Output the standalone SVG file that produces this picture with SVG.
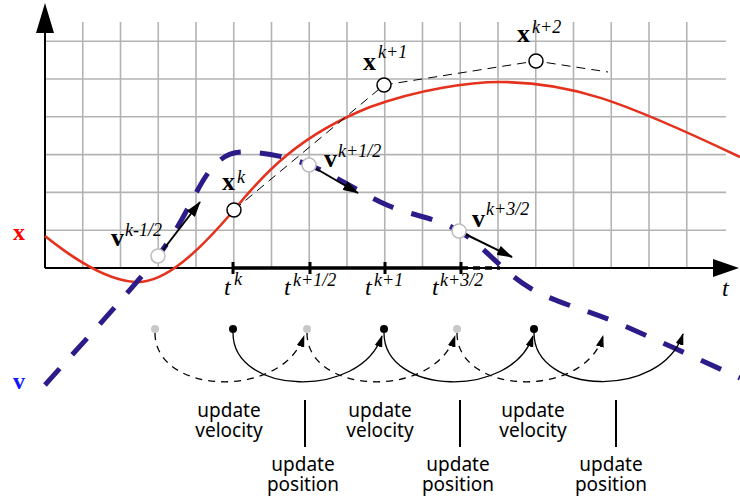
<svg xmlns="http://www.w3.org/2000/svg" width="740" height="497" viewBox="0 0 740 497">
<style>
.grid line{stroke:#b3b3b3;stroke-width:1.6}
.ax{stroke:#000;stroke-width:2;fill:none}
.tick{stroke:#000;stroke-width:3}
.m{font-family:"Liberation Serif","Times New Roman",serif;fill:#000}
.b{font-weight:bold;font-size:26px}
.sup{font-family:"Liberation Serif","Times New Roman",serif;font-style:italic;font-weight:normal;font-size:18px}
.tl{font-style:italic;font-size:24px}
.lbl{font-family:"Noto Sans","Open Sans",sans-serif;font-size:19px;fill:#000;text-anchor:middle}
.xo{fill:#fff;stroke:#000;stroke-width:1.5}
.vo{fill:#fff;stroke:#bdbdbd;stroke-width:1.5}
.va{stroke:#000;stroke-width:2;fill:none;marker-end:url(#ah)}
.arc{stroke:#000;stroke-width:1.3;fill:none;marker-end:url(#ah2)}
.dash{stroke-dasharray:7 6}
.sep{stroke:#000;stroke-width:2}
</style>
<defs>
<marker id="ah" viewBox="0 0 16 10" refX="15" refY="5" markerWidth="16" markerHeight="10" orient="auto" markerUnits="userSpaceOnUse"><path d="M0,0 L16,5 L0,10 z" fill="#000"/></marker>
<marker id="ah2" viewBox="0 0 12 8" refX="11" refY="4" markerWidth="12" markerHeight="8" orient="auto" markerUnits="userSpaceOnUse"><path d="M0,0 L12,4 L0,8 z" fill="#000"/></marker>
</defs>
<rect width="740" height="497" fill="#fff"/>
<g class="grid">
<line x1="82.75" y1="22" x2="82.75" y2="268"/>
<line x1="120.5" y1="22" x2="120.5" y2="268"/>
<line x1="158.25" y1="22" x2="158.25" y2="268"/>
<line x1="196" y1="22" x2="196" y2="268"/>
<line x1="233.75" y1="22" x2="233.75" y2="268"/>
<line x1="271.5" y1="22" x2="271.5" y2="268"/>
<line x1="309.25" y1="22" x2="309.25" y2="268"/>
<line x1="347" y1="22" x2="347" y2="268"/>
<line x1="384.75" y1="22" x2="384.75" y2="268"/>
<line x1="422.5" y1="22" x2="422.5" y2="268"/>
<line x1="460.25" y1="22" x2="460.25" y2="268"/>
<line x1="498" y1="22" x2="498" y2="268"/>
<line x1="535.75" y1="22" x2="535.75" y2="268"/>
<line x1="573.5" y1="22" x2="573.5" y2="268"/>
<line x1="611.25" y1="22" x2="611.25" y2="268"/>
<line x1="649" y1="22" x2="649" y2="268"/>
<line x1="686.75" y1="22" x2="686.75" y2="268"/>
<line x1="45" y1="230.2" x2="726" y2="230.2"/>
<line x1="45" y1="192.4" x2="726" y2="192.4"/>
<line x1="45" y1="154.6" x2="726" y2="154.6"/>
<line x1="45" y1="116.8" x2="726" y2="116.8"/>
<line x1="45" y1="79" x2="726" y2="79"/>
<line x1="45" y1="41.2" x2="726" y2="41.2"/>
</g>
<g id="axes">
<line class="ax" x1="45" y1="268" x2="45" y2="30"/>
<path d="M45,3 L54,33 L36,33 z" fill="#000"/>
<line class="ax" x1="45" y1="268" x2="715" y2="268"/>
<path d="M739,268 L713,259 L713,277 z" fill="#000"/>
<line x1="233" y1="268" x2="461" y2="268" stroke="#000" stroke-width="3.5"/>
<line x1="461" y1="268" x2="500" y2="268" stroke="#000" stroke-width="3.5" stroke-dasharray="7 5"/>
<line class="tick" x1="233" y1="262" x2="233" y2="274"/>
<line class="tick" x1="310" y1="262" x2="310" y2="274"/>
<line class="tick" x1="385" y1="262" x2="385" y2="274"/>
<line class="tick" x1="461" y1="262" x2="461" y2="274"/>
<text class="m tl" x="224" y="295">t<tspan class="sup" x="234" y="285">k</tspan></text>
<text class="m tl" x="284" y="295">t<tspan class="sup" x="293" y="286">k+1/2</tspan></text>
<text class="m tl" x="365" y="295">t<tspan class="sup" x="374" y="286">k+1</tspan></text>
<text class="m tl" x="432" y="295">t<tspan class="sup" x="440" y="286">k+3/2</tspan></text>
<text class="m tl" x="722" y="296">t</text>
<text class="m" x="13" y="240" font-weight="bold" font-size="24" style="fill:#ff0000">x</text>
<text class="m" x="13" y="389" font-weight="bold" font-size="24" style="fill:#1414ff">v</text>
</g>
<g id="curve-x">
<path d="M45,236 C60,248 100,280 135,282 C165,284 200,250 234,210 C265,172 300,135 370,107 C420,89 470,82 500,82 C570,82 620,100 740,157" fill="none" stroke="#e4321e" stroke-width="2.6"/>
</g>
<g id="curve-v">
<path d="M45,385 C63.8,363.5 130.5,291.8 158,256 C185.5,220.2 197,185 212,168 C225,154 232,152 245,152 C261.5,152 285.3,156 309,165 C332.7,174 362,194 387,205 C412,216 435.2,217.2 459,231 C482.8,244.8 503.2,272.5 530,288 C556.8,303.5 585,309 620,324 C655,339 720,369 740,378" fill="none" stroke="#2b1c8a" stroke-width="5" stroke-dasharray="22 19"/>
</g>
<g id="connectors">
<polyline points="234,210 384,85 536,61 608,72" fill="none" stroke="#000" stroke-width="1" stroke-dasharray="9 6"/>
<line class="va" x1="163" y1="250" x2="200" y2="202"/>
<line class="va" x1="315" y1="168" x2="358" y2="193"/>
<line class="va" x1="465" y1="234" x2="512" y2="257"/>
<path class="arc" d="M233,333 C233,395 360,400 382,336"/>
<path class="arc" d="M384,333 C384,395 511,400 533,336"/>
<path class="arc" d="M534,333 C534,395 661,400 683,334"/>
<path class="arc dash" d="M155,333 C155,395 282,400 304,336"/>
<path class="arc dash" d="M307,333 C307,395 434,400 455,336"/>
<path class="arc dash" d="M457,333 C457,395 584,400 603,336"/>
</g>
<g id="node-vkm12"><circle class="vo" cx="158" cy="256" r="7"/><text class="m b" x="111" y="246">v<tspan class="sup" x="125" y="236">k-1/2</tspan></text></g>
<g id="node-xk"><circle class="xo" cx="234" cy="210" r="7"/><text class="m b" x="222" y="190">x<tspan class="sup" x="237" y="183">k</tspan></text></g>
<g id="node-vkp12"><circle class="vo" cx="309" cy="165" r="7"/><text class="m b" x="324" y="167">v<tspan class="sup" x="338" y="157">k+1/2</tspan></text></g>
<g id="node-xkp1"><circle class="xo" cx="384" cy="85" r="7"/><text class="m b" x="363" y="70">x<tspan class="sup" x="378" y="58">k+1</tspan></text></g>
<g id="node-xkp2"><circle class="xo" cx="536" cy="61" r="7"/><text class="m b" x="517" y="42">x<tspan class="sup" x="532" y="33">k+2</tspan></text></g>
<g id="node-vkp32"><circle class="vo" cx="459" cy="231" r="7"/><text class="m b" x="472" y="227">v<tspan class="sup" x="486" y="215">k+3/2</tspan></text></g>
<g id="steps">
<circle cx="155" cy="329" r="4" fill="#c8c8c8"/>
<circle cx="307" cy="329" r="4" fill="#c8c8c8"/>
<circle cx="457" cy="329" r="4" fill="#c8c8c8"/>
<circle cx="233" cy="329" r="4" fill="#000"/>
<circle cx="384" cy="329" r="4" fill="#000"/>
<circle cx="534" cy="329" r="4" fill="#000"/>
</g>
<g id="labels">
<text class="lbl"><tspan x="229" y="417">update</tspan><tspan x="229" y="437">velocity</tspan></text>
<text class="lbl"><tspan x="380" y="417">update</tspan><tspan x="380" y="437">velocity</tspan></text>
<text class="lbl"><tspan x="533" y="417">update</tspan><tspan x="533" y="437">velocity</tspan></text>
<text class="lbl"><tspan x="303" y="471">update</tspan><tspan x="303" y="491">position</tspan></text>
<text class="lbl"><tspan x="458" y="471">update</tspan><tspan x="458" y="491">position</tspan></text>
<text class="lbl"><tspan x="611" y="471">update</tspan><tspan x="611" y="491">position</tspan></text>
<line class="sep" x1="305" y1="400" x2="305" y2="447"/>
<line class="sep" x1="460" y1="400" x2="460" y2="447"/>
<line class="sep" x1="616" y1="400" x2="616" y2="447"/>
</g>
</svg>
